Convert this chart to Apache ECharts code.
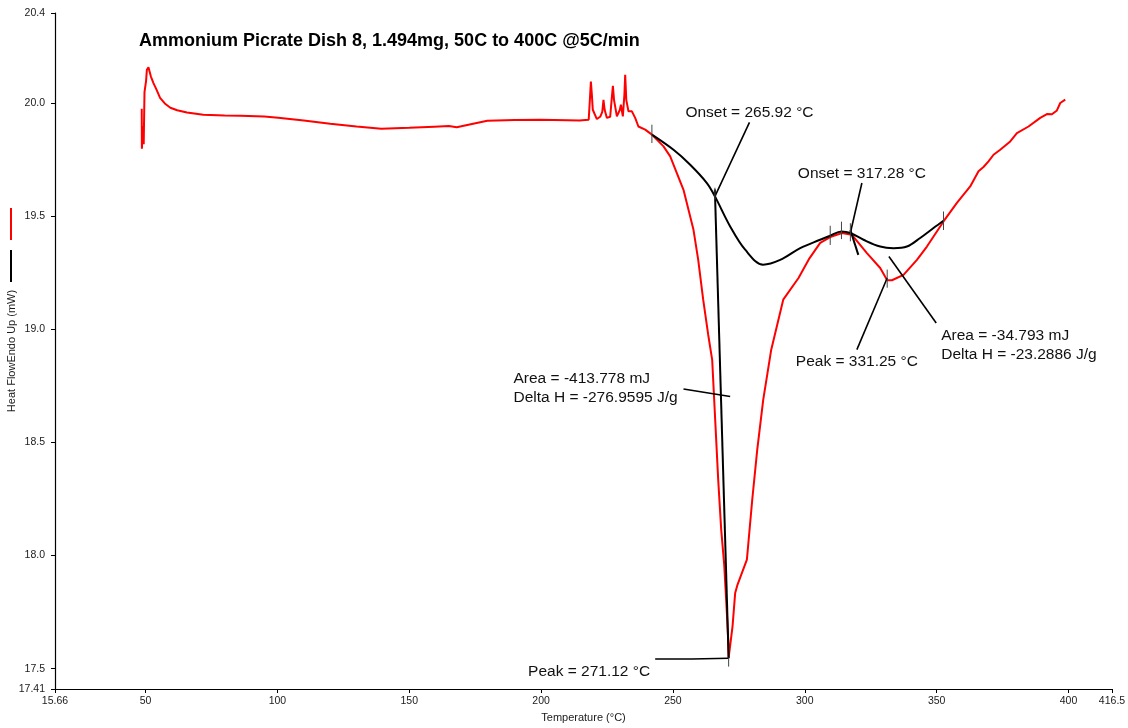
<!DOCTYPE html>
<html>
<head>
<meta charset="utf-8">
<script src="https://cdn.jsdelivr.net/npm/echarts@6/dist/echarts.min.js"></script>
<style>
  html, body { margin: 0; padding: 0; background: #fff; }
  #chart { width: 1128px; height: 728px; }
</style>
</head>
<body>
<div id="chart"></div>
<script>
// DSC trace: temperature (°C) and heat flow (mW, endo up)
const heatT = [
  48.55, 48.61, 49.0, 49.3, 49.6, 50.2, 50.5, 51.1, 51.4, 52.0, 53.0, 54.2, 55.5, 57.3, 59.4, 62.0, 65.7, 71.9,
  80, 86, 95, 100.3, 110, 120, 130, 139.4, 150, 159.5, 165, 168, 172, 179.6, 190, 199.7, 210, 214.5,
  218.05, 218.5, 218.88, 219.26, 219.6, 221.15, 222.4, 223.2, 223.66, 224.1, 224.95, 226.2, 226.75, 227.23, 227.65,
  228.74, 229.88, 230.26, 231.0, 231.6, 231.89, 232.3, 233.14, 234.43, 235.68, 236.9, 239.48, 242.02, 246.42,
  248.96, 254.0, 257.79, 259.57, 261.47, 263.37, 264.88, 266.02, 267.16, 268.3, 269.44, 270.38, 270.95, 271.12,
  272.6, 273.6, 274.5, 278.04, 280.06, 281.96, 284.23, 287.27, 291.82, 297.62, 301.5, 305.84, 309.64, 314.08,
  317.87, 323.56, 328.6, 331.25, 333.04, 337.44, 342.52, 346.31, 352.6, 357.68, 362.73, 365.88, 367.77, 369.67,
  371.57, 374.11, 377.9, 380.44, 384.84, 389.28, 391.82, 393.72, 395.61, 396.87, 398.76
];
const heatFlow = [
  19.977, 19.80, 19.90, 19.82, 20.05, 20.10, 20.149, 20.16, 20.155, 20.12, 20.09, 20.06, 20.025, 20.0, 19.981, 19.97, 19.96, 19.95,
  19.947, 19.945, 19.942, 19.937, 19.925, 19.91, 19.898, 19.888, 19.892, 19.897, 19.90, 19.895, 19.905, 19.923, 19.927, 19.928, 19.926, 19.925,
  19.928, 20.017, 20.097, 20.037, 19.972, 19.931, 19.941, 19.963, 20.016, 19.972, 19.936, 19.941, 20.016, 20.078, 20.016,
  19.943, 19.972, 19.994, 19.943, 20.04, 20.127, 20.016, 19.965, 19.965, 19.936, 19.898, 19.884, 19.862, 19.81,
  19.766, 19.618, 19.441, 19.309, 19.132, 18.977, 18.866, 18.601, 18.336, 18.115, 17.96, 17.761, 17.628, 17.549,
  17.687, 17.835, 17.872, 17.982, 18.246, 18.468, 18.689, 18.911, 19.132, 19.228, 19.31, 19.383, 19.409, 19.427,
  19.419, 19.338, 19.272, 19.218, 19.218, 19.242, 19.308, 19.367, 19.478, 19.56, 19.633, 19.70, 19.719, 19.744,
  19.773, 19.795, 19.832, 19.869, 19.898, 19.936, 19.953, 19.952, 19.969, 20.002, 20.017
];

// Interpolated integration baselines under the two peaks
const baseT = [
  242.02, 250.21, 256.54, 262.87, 265.92, 271.7, 277.39, 284.22, 290.67, 298.26, 305.84, 309.64,
  313.91, 317.28, 322.27, 328.6, 333.64, 338.72, 343.76, 348.81, 352.6
];
const baseFlow = [
  19.862, 19.795, 19.729, 19.648, 19.589, 19.456, 19.353, 19.287, 19.308, 19.36, 19.397, 19.415,
  19.434, 19.427, 19.397, 19.367, 19.36, 19.367, 19.405, 19.449, 19.481
];

// Axis tick values
const xTickValues = [15.66, 50, 100, 150, 200, 250, 300, 350, 400, 416.5];
const yTickValues = [17.41, 17.5, 18.0, 18.5, 19.0, 19.5, 20.0, 20.4];

// Analysis results
const onsets = [265.92, 317.28];
const peaks = [271.12, 331.25];
const areas = ['-413.778', '-34.793'];
const deltaH = ['-276.9595', '-23.2886'];

// Leader lines in (°C, mW)
const leaderLines = [
  [[279.02, 19.916], [265.92, 19.589]],
  [[321.65, 19.648], [317.28, 19.427]],
  [[254.0, 18.737], [271.7, 18.704]],
  [[243.26, 17.543], [257.2, 17.543], [257.2, 17.546], [271.12, 17.546]],
  [[319.75, 18.911], [331.25, 19.228]],
  [[349.83, 19.029], [331.9, 19.323]]
];
// Onset tangents
const tangentLines = [
  [[265.9, 19.62], [271.12, 17.546]],
  [[317.28, 19.44], [320.3, 19.33]]
];
// Short markers on the curves: [temperature, top, bottom]
const curveMarkers = [
  [242.02, 19.906, 19.825],
  [265.92, 19.627, 19.574],
  [271.12, 17.549, 17.509],
  [309.64, 19.459, 19.374],
  [313.91, 19.477, 19.40],
  [317.28, 19.47, 19.39],
  [331.25, 19.265, 19.185],
  [352.6, 19.522, 19.44]
];
// Label anchors (free ends of the leaders)
const labelAnchors = {
  onset1: [279.02, 19.916],
  onset2: [321.65, 19.648],
  area1: [254.0, 18.737],
  peak1: [243.26, 17.543],
  peak2: [319.75, 18.911],
  area2: [349.83, 19.029]
};

const FONT = '"Liberation Sans", Arial, sans-serif';
const zip = (a, b) => a.map((v, i) => [v, b[i]]);

const chart = echarts.init(document.getElementById('chart'), null, { renderer: 'canvas' });

const series = [
  {
    name: 'Heat Flow', type: 'line', data: zip(heatT, heatFlow),
    showSymbol: false, symbol: 'none', z: 3,
    lineStyle: { color: '#ff0000', width: 2 }, itemStyle: { color: '#ff0000' }
  },
  {
    name: 'Baseline', type: 'line', data: zip(baseT, baseFlow),
    showSymbol: false, symbol: 'none', smooth: 0.35, z: 4,
    lineStyle: { color: '#000000', width: 2 }, itemStyle: { color: '#000000' }
  }
];

leaderLines.forEach(pts => series.push({
  type: 'line', data: pts, showSymbol: false, symbol: 'none', z: 5, silent: true,
  lineStyle: { color: '#000', width: 1.6 }
}));
tangentLines.forEach(pts => series.push({
  type: 'line', data: pts, showSymbol: false, symbol: 'none', z: 5, silent: true,
  lineStyle: { color: '#000', width: 2 }
}));
curveMarkers.forEach(m => series.push({
  type: 'line', data: [[m[0], m[1]], [m[0], m[2]]], showSymbol: false, symbol: 'none', z: 6, silent: true,
  lineStyle: { color: '#444', width: 1 }
}));

const labelStyle = { show: true, color: '#111', opacity: 1, fontFamily: FONT, fontSize: 15.5, lineHeight: 19 };
function textPoint(at, text, extra) {
  series.push({
    type: 'scatter', symbolSize: 0, silent: true, z: 7,
    data: [{ value: at }],
    itemStyle: { opacity: 1 },
    emphasis: { disabled: true },
    label: Object.assign({}, labelStyle, { formatter: text }, extra)
  });
}
textPoint(labelAnchors.onset1, `Onset = ${onsets[0].toFixed(2)} °C`, { position: 'top', distance: 0 });
textPoint(labelAnchors.onset2, `Onset = ${onsets[1].toFixed(2)} °C`, { position: 'top', distance: 0 });
textPoint(labelAnchors.peak2, `Peak = ${peaks[1].toFixed(2)} °C`, { position: 'bottom', distance: 3 });
textPoint(labelAnchors.peak1, `Peak = ${peaks[0].toFixed(2)} °C`, { position: [-5, 3], align: 'right' });
textPoint(labelAnchors.area1, `Area = ${areas[0]} mJ\nDelta H = ${deltaH[0]} J/g`, { position: [-170, -20], align: 'left' });
textPoint(labelAnchors.area2, `Area = ${areas[1]} mJ\nDelta H = ${deltaH[1]} J/g`, { position: [5, 3], align: 'left' });

const axisText = { color: '#1a1a1a', fontFamily: FONT, fontSize: 10 };

chart.setOption({
  animation: false,
  backgroundColor: '#ffffff',
  textStyle: { fontFamily: FONT },
  title: {
    text: 'Ammonium Picrate Dish 8, 1.494mg, 50C to 400C @5C/min',
    left: 139, top: 32, padding: 0,
    textStyle: { fontFamily: FONT, fontSize: 18, fontWeight: 'bold', color: '#000' }
  },
  legend: {
    data: ['Heat Flow', 'Baseline'],
    orient: 'vertical', left: 10, top: 208, padding: 0,
    itemWidth: 2, itemHeight: 32, itemGap: 10, icon: 'rect',
    formatter: () => '', selectedMode: false,
    textStyle: { fontSize: 1 }
  },
  grid: { left: 55, right: 16, top: 13, bottom: 39, containLabel: false, outerBoundsMode: 'none' },
  xAxis: {
    type: 'value', min: 15.66, max: 416.5,
    name: 'Temperature (°C)', nameLocation: 'middle', nameGap: 23,
    nameTextStyle: Object.assign({}, axisText, { fontSize: 11 }),
    axisLine: { lineStyle: { color: '#000', width: 1.2 } },
    axisTick: { length: 4, customValues: xTickValues, lineStyle: { color: '#000' } },
    axisLabel: Object.assign({ customValues: xTickValues, margin: 7, formatter: v => String(v) }, axisText, { fontSize: 10.5 }),
    splitLine: { show: false }
  },
  yAxis: {
    type: 'value', min: 17.41, max: 20.4,
    name: 'Heat FlowEndo Up (mW)', nameLocation: 'middle', nameGap: 38, nameRotate: 90,
    nameMoveOverlap: false,
    nameTextStyle: Object.assign({}, axisText, { fontSize: 11 }),
    axisLine: { show: true, lineStyle: { color: '#000', width: 1.2 } },
    axisTick: { show: true, length: 4, customValues: yTickValues, lineStyle: { color: '#000' } },
    axisLabel: Object.assign({
      customValues: yTickValues, margin: 10,
      formatter: v => (v === 17.41 ? '17.41' : v.toFixed(1))
    }, axisText, { fontSize: 10.5 }),
    splitLine: { show: false }
  },
  series: series
});
</script>
</body>
</html>
